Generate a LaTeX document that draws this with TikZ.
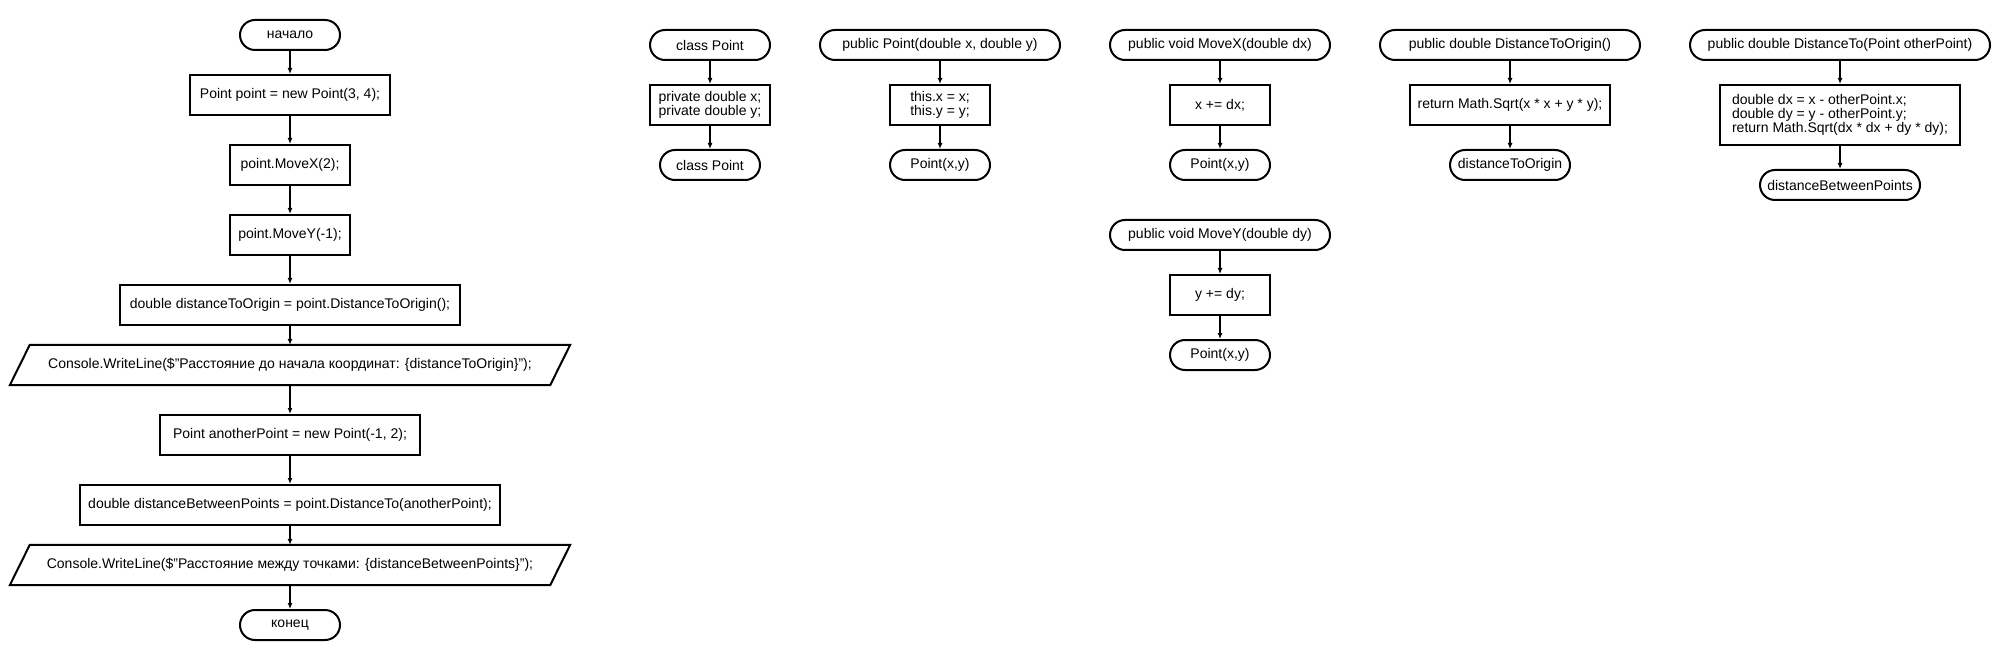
\documentclass[tikz,border=0pt]{standalone}
\usepackage{fontspec}
\setmainfont{Liberation Sans}
\usetikzlibrary{arrows.meta}

\begin{document}
\begin{tikzpicture}[x=1pt,y=-1pt,>={Latex[length=6pt,width=5pt]}]
    \tikzstyle{term}=[draw,line width=2pt,rounded corners=15pt,inner sep=0pt,minimum height=30pt,font=\fontsize{14}{14}\selectfont]
    \tikzstyle{proc}=[draw,line width=2pt,inner sep=0pt,minimum height=40pt,font=\fontsize{14}{14}\selectfont]
    \tikzstyle{io}=[inner sep=0pt,minimum width=560pt,minimum height=40pt,font=\fontsize{14}{14}\selectfont]
    \tikzstyle{slant}=[draw,line width=2pt]
    \tikzstyle{flow}=[->,draw,line width=1.2pt]
    \fill[white] (0,0) rectangle (2010,660);

      % main program
      \node (start) at (290, 35)  [term,minimum width=100pt] {начало};
      \node (p1) at (290, 95)  [proc,minimum width=200pt] {Point point = new Point(3, 4);};
      \node (p2) at (290, 165) [proc,minimum width=120pt] {point.MoveX(2);};
      \node (p3) at (290, 235) [proc,minimum width=120pt] {point.MoveY(-1);};
      \node (p4) at (290, 305) [proc,minimum width=340pt] {double distanceToOrigin = point.DistanceToOrigin();};
      \node (o1) at (290, 365) [io] {Console.WriteLine(\$"Расстояние до начала координат: \{distanceToOrigin\}");};
      \node (p5) at (290, 435) [proc,minimum width=260pt] {Point anotherPoint = new Point(-1, 2);};
      \node (p6) at (290, 505) [proc,minimum width=420pt] {double distanceBetweenPoints = point.DistanceTo(anotherPoint);};
      \node (o2) at (290, 565) [io] {Console.WriteLine(\$"Расстояние между точками: \{distanceBetweenPoints\}");};
      \node (stop) at (290, 625) [term,minimum width=100pt] {конец};

      \foreach \n in {o1,o2}
        \draw[slant] ([xshift=20pt]\n.north west) -- (\n.north east) -- ([xshift=-20pt]\n.south east) -- (\n.south west) -- cycle;

      \path[flow] (start) edge (p1);
      \path[flow] (p1) edge (p2);
      \path[flow] (p2) edge (p3);
      \path[flow] (p3) edge (p4);
      \path[flow] (p4) edge (o1);
      \path[flow] (o1) edge (p5);
      \path[flow] (p5) edge (p6);
      \path[flow] (p6) edge (o2);
      \path[flow] (o2) edge (stop);

      % class Point
      \node (cls) at (710, 45)  [term,minimum width=120pt] {class Point};
      \node (fld) at (710, 105) [proc,minimum width=120pt,align=left] {private double x;\\private double y;};
      \node (clsend) at (710, 165) [term,minimum width=100pt] {class Point};
      \path[flow] (cls) edge (fld);
      \path[flow] (fld) edge (clsend);

      % constructor
      \node (ctor) at (940, 45)  [term,minimum width=240pt] {public Point(double x, double y)};
      \node (ctorb) at (940, 105) [proc,minimum width=100pt,align=center] {this.x = x;\\this.y = y;};
      \node (ctore) at (940, 165) [term,minimum width=100pt] {Point(x,y)};
      \path[flow] (ctor) edge (ctorb);
      \path[flow] (ctorb) edge (ctore);

      % MoveX
      \node (mx) at (1220, 45)  [term,minimum width=220pt] {public void MoveX(double dx)};
      \node (mxb) at (1220, 105) [proc,minimum width=100pt] {x += dx;};
      \node (mxe) at (1220, 165) [term,minimum width=100pt] {Point(x,y)};
      \path[flow] (mx) edge (mxb);
      \path[flow] (mxb) edge (mxe);

      % MoveY
      \node (my) at (1220, 235) [term,minimum width=220pt] {public void MoveY(double dy)};
      \node (myb) at (1220, 295) [proc,minimum width=100pt] {y += dy;};
      \node (mye) at (1220, 355) [term,minimum width=100pt] {Point(x,y)};
      \path[flow] (my) edge (myb);
      \path[flow] (myb) edge (mye);

      % DistanceToOrigin
      \node (dto) at (1510, 45)  [term,minimum width=260pt] {public double DistanceToOrigin()};
      \node (dtob) at (1510, 105) [proc,minimum width=200pt] {return Math.Sqrt(x * x + y * y);};
      \node (dtoe) at (1510, 165) [term,minimum width=120pt] {distanceToOrigin};
      \path[flow] (dto) edge (dtob);
      \path[flow] (dtob) edge (dtoe);

      % DistanceTo
      \node (dt) at (1840, 45)  [term,minimum width=300pt] {public double DistanceTo(Point otherPoint)};
      \node (dtb) at (1840, 115) [proc,minimum width=240pt,minimum height=60pt,align=left] {double dx = x - otherPoint.x;\\double dy = y - otherPoint.y;\\return Math.Sqrt(dx * dx + dy * dy);};
      \node (dte) at (1840, 185) [term,minimum width=160pt] {distanceBetweenPoints};
      \path[flow] (dt) edge (dtb);
      \path[flow] (dtb) edge (dte);
\end{tikzpicture}
\end{document}
